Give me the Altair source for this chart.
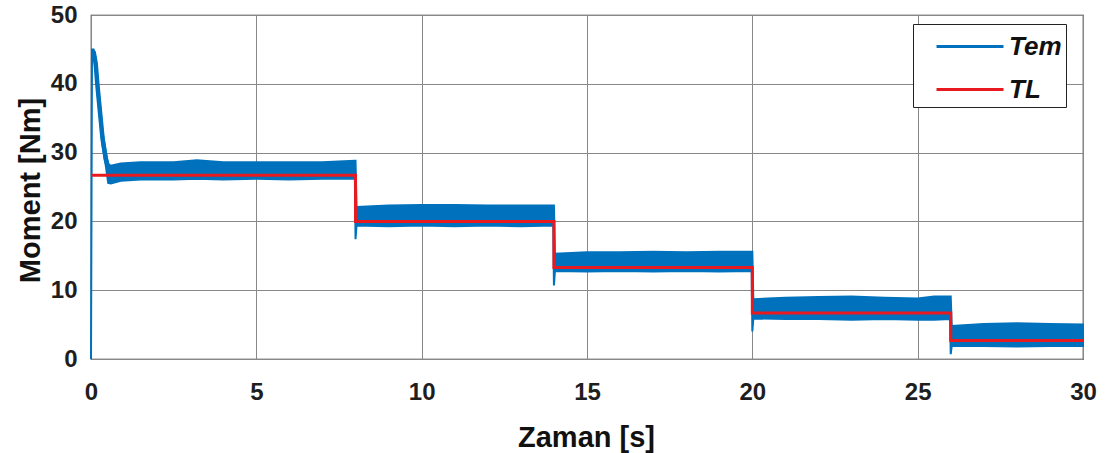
import altair as alt
import pandas as pd

# Electromagnetic torque Tem: envelope (lower/upper) of the measured band
tem_t = [0, 0.03, 0.08, 0.14, 0.2, 0.28, 0.35, 0.45, 0.52, 0.6, 0.9, 1.5, 2.5, 3.2, 4.0, 5.0, 6.0, 7.0, 7.98,
         8.0, 8.03, 9, 10, 11, 12, 13, 13.98,
         14.0, 14.03, 15, 16, 17, 18, 19, 19.98,
         20.0, 20.03, 21, 22, 23, 24, 25, 25.5, 25.98,
         26.0, 26.03, 27, 28, 29, 30]
tem_lo = [0, 44.0, 44.0, 42.0, 38.5, 34.5, 31.0, 28.0, 25.6, 25.5, 25.9, 26.1, 26.1, 26.2, 26.1, 26.2, 26.1, 26.2, 26.2,
          17.4, 19.4, 19.3, 19.4, 19.3, 19.4, 19.3, 19.4,
          10.7, 12.8, 12.7, 12.8, 12.7, 12.8, 12.7, 12.8,
          4.0, 5.9, 5.8, 5.8, 5.7, 5.8, 5.7, 5.7, 5.8,
          0.7, 1.9, 1.9, 1.8, 1.9, 1.9]
tem_hi = [0, 45.0, 45.0, 43.8, 40.5, 36.5, 33.0, 30.0, 28.3, 28.1, 28.4, 28.6, 28.6, 28.9, 28.6, 28.6, 28.6, 28.6, 28.8,
          28.8, 22.1, 22.3, 22.4, 22.4, 22.3, 22.3, 22.3,
          22.3, 15.3, 15.5, 15.5, 15.6, 15.5, 15.6, 15.6,
          15.6, 8.7, 8.9, 9.0, 9.1, 8.9, 8.8, 9.1, 9.1,
          9.1, 4.8, 5.1, 5.2, 5.1, 5.0]

# Start-up transient of Tem (centre line of the thick trace)
start_t = [0.03, 0.08, 0.14, 0.2, 0.28, 0.35, 0.45, 0.55]
start_v = [44.6, 44.6, 43.0, 39.5, 35.5, 32.0, 29.0, 27.4]

# Load torque TL: step profile
tl_t = [0, 8, 14, 20, 26, 30]
tl_v = [26.7, 20.0, 13.3, 6.7, 2.7, 2.7]

series = ["Tem", "TL"]
colors = ["#0072BD", "#E8191F"]

x_ticks = [0, 5, 10, 15, 20, 25, 30]
y_ticks = [0, 10, 20, 30, 40, 50]

tem_df = pd.DataFrame({"t": tem_t, "lo": tem_lo, "hi": tem_hi, "series": "Tem"})
start_df = pd.DataFrame({"t": start_t, "v": start_v})
tl_df = pd.DataFrame({"t": tl_t, "v": tl_v, "series": "TL"})

FONT = "Liberation Sans"

stroke_scale = alt.Scale(domain=series, range=colors)

x_enc = alt.X(
    "t:Q",
    scale=alt.Scale(domain=[0, 30], nice=False),
    axis=alt.Axis(values=x_ticks, title="Zaman [s]", labelPadding=21,
                  titleX=495, titleY=78, titleBaseline="middle", titleAlign="center"),
)
y_axis = alt.Axis(values=y_ticks, title="Moment [Nm]", labelPadding=14,
                  titleAngle=270, titleX=-61, titleY=175, titleBaseline="middle",
                  titleAlign="center")
y_scale = alt.Scale(domain=[0, 50], nice=False)

legend = alt.Legend(
    title=None,
    orient="none",
    legendX=822,
    legendY=9,
    symbolType="M0.06,0H4",
    symbolSize=1156,
    symbolStrokeWidth=3,
    labelOffset=55,
    rowPadding=11,
    padding=4,
    strokeColor="#222222",
    fillColor="white",
    labelFont=FONT,
    labelFontSize=26,
    labelFontWeight="bold",
    labelFontStyle="italic",
    labelColor="#111111",
)

tem = alt.Chart(tem_df).mark_area(fill="#0072BD", strokeWidth=2, opacity=1).encode(
    x=x_enc,
    y=alt.Y("lo:Q", scale=y_scale, axis=y_axis),
    y2="hi:Q",
    stroke=alt.Stroke("series:N", scale=stroke_scale, legend=legend),
)

start = alt.Chart(start_df).mark_line(color="#0072BD", strokeWidth=4.5, strokeJoin="round").encode(
    x=x_enc,
    y=alt.Y("v:Q", scale=y_scale, axis=y_axis),
)

tl = alt.Chart(tl_df).mark_line(strokeWidth=3, interpolate="step-after").encode(
    x=x_enc,
    y=alt.Y("v:Q", scale=y_scale, axis=y_axis),
    stroke=alt.Stroke("series:N", scale=stroke_scale, legend=legend),
)

chart = (
    alt.layer(tem, start, tl)
    .properties(
        width=992,
        height=344,
        autosize=alt.AutoSizeParams(type="none"),
        padding={"left": 91, "top": 15, "right": 26, "bottom": 94},
        background="white",
    )
    .configure_view(stroke="#262626", strokeWidth=1.2)
    .configure_axis(
        domain=False,
        ticks=False,
        grid=True,
        gridColor="#888888",
        gridWidth=1,
        labelFlush=False,
        labelFont=FONT,
        labelFontSize=24,
        labelFontWeight="bold",
        labelColor="#1e1e1e",
        titleFont=FONT,
        titleFontSize=29,
        titleFontWeight="bold",
        titleColor="#111111",
    )
)

chart.save("out.html", embed_options={"renderer": "svg", "actions": False})
